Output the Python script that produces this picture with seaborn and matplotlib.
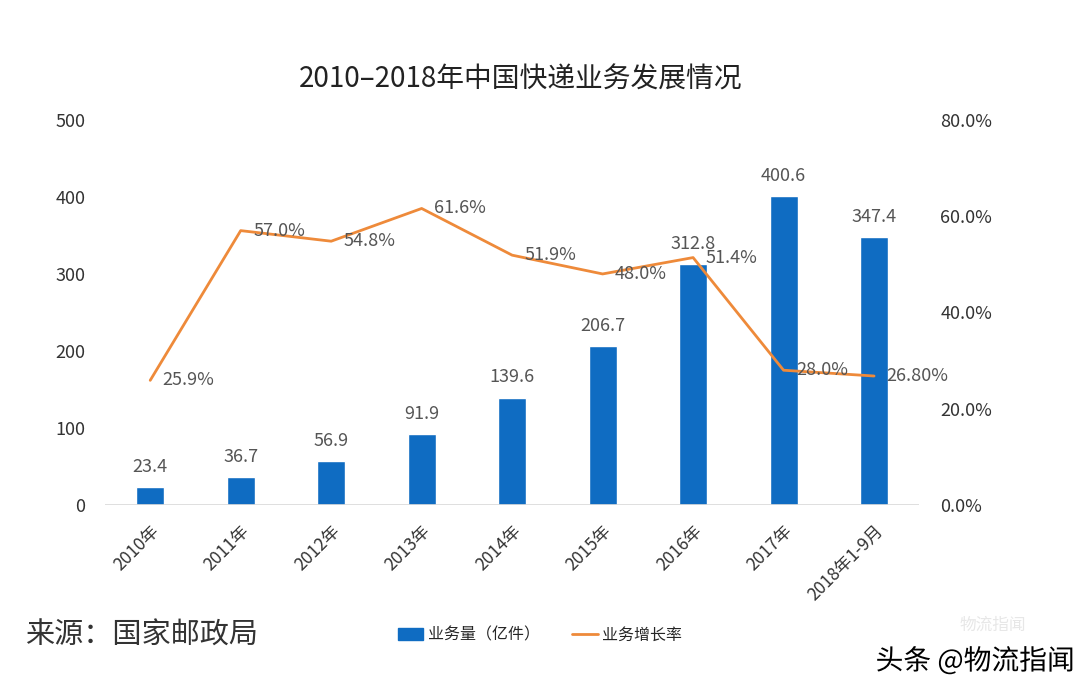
import numpy as np
import pandas as pd
import matplotlib
matplotlib.use("Agg")
import matplotlib.pyplot as plt
import seaborn as sns
from matplotlib.patches import Patch
from matplotlib.lines import Line2D
import matplotlib.patheffects as pe

categories = ["2010年", "2011年", "2012年", "2013年", "2014年", "2015年", "2016年", "2017年", "2018年1-9月"]
volume = [23.4, 36.7, 56.9, 91.9, 139.6, 206.7, 312.8, 400.6, 347.4]
growth = [25.9, 57.0, 54.8, 61.6, 51.9, 48.0, 51.4, 28.0, 26.8]
growth_labels = ["25.9%", "57.0%", "54.8%", "61.6%", "51.9%", "48.0%", "51.4%", "28.0%", "26.80%"]
left_ticks = [0, 100, 200, 300, 400, 500]
right_ticks = [0, 20, 40, 60, 80]

sns.set_theme(style="white")
plt.rcParams['font.family'] = ['Noto Sans CJK SC', 'DejaVu Sans']

BAR = "#0F6CC2"
LINE = "#EE8A3A"
TXT = "#333333"
LBL = "#555555"

df = pd.DataFrame({"cat": categories, "vol": volume, "growth": growth})
df["pos"] = np.arange(len(df))

fig = plt.figure(figsize=(10.8, 6.89), dpi=100)
ax = fig.add_axes([0.0972, 0.267, 0.754, 0.559])

sns.barplot(data=df, x="cat", y="vol", color=BAR, width=0.31, ax=ax, saturation=1)
ax.set_ylim(0, 500)
ax.set_xlim(-0.5, len(df) - 0.5)
ax.set_yticks(left_ticks)
ax.set_yticklabels([str(t) for t in left_ticks], fontsize=13, color=TXT)
ax.set_xlabel("")
ax.set_ylabel("")
for s in ax.spines.values():
    s.set_visible(False)
ax.axhline(0, color="#d9d9d9", lw=1.2, zorder=1)
ax.tick_params(axis="y", length=0, pad=14)
ax.tick_params(axis="x", length=0, pad=12)
ax.set_xticks(df["pos"])
ax.set_xticklabels(categories, rotation=45, ha="right", rotation_mode="anchor",
                   fontsize=12.5, color=TXT)

for p, v in zip(df["pos"], volume):
    ax.annotate(f"{v:.1f}", (p, v), xytext=(0, 8), textcoords="offset points",
                ha="center", va="bottom", fontsize=13, color=LBL)

ax2 = ax.twinx()
sns.lineplot(x=df["pos"], y=df["growth"], color=LINE, lw=2, ax=ax2)
ax2.set_ylim(0, 80)
ax2.set_xlim(-0.5, len(df) - 0.5)
ax2.set_yticks(right_ticks)
ax2.set_yticklabels([f"{t:.1f}%" for t in right_ticks], fontsize=13, color=TXT)
ax2.set_ylabel("")
ax2.set_xlabel("")
for s in ax2.spines.values():
    s.set_visible(False)
ax2.tick_params(axis="y", length=0, pad=15)
ax2.grid(False)
ax.grid(False)

for p, g, t in zip(df["pos"], growth, growth_labels):
    ax2.annotate(t, (p, g), xytext=(9, 0), textcoords="offset points",
                 ha="left", va="center", fontsize=13, color=LBL)

fig.text(0.482, 0.885, "2010–2018年中国快递业务发展情况", ha="center", va="center",
         fontsize=20, color="#222222")

fig.text(0.023, 0.078, "来源：国家邮政局", ha="left", va="center", fontsize=21, color="#333333")

handles = [Patch(facecolor=BAR, edgecolor=BAR),
           Line2D([0], [0], color=LINE, lw=2)]
fig.legend(handles, ["业务量（亿件）", "业务增长率"], loc="center",
           bbox_to_anchor=(0.5, 0.078), ncol=2, frameon=False, fontsize=11.5,
           handlelength=1.6, handleheight=0.8, columnspacing=2.0, handletextpad=0.3)

fig.text(0.95, 0.092, "物流指闻", ha="right", va="center", fontsize=12, color="#dddddd", alpha=0.7)
fig.text(0.995, 0.04, "头条 @物流指闻", ha="right", va="center", fontsize=20, color="black",
         path_effects=[pe.withStroke(linewidth=3, foreground="white")])

fig.savefig("out.png", dpi=100)
